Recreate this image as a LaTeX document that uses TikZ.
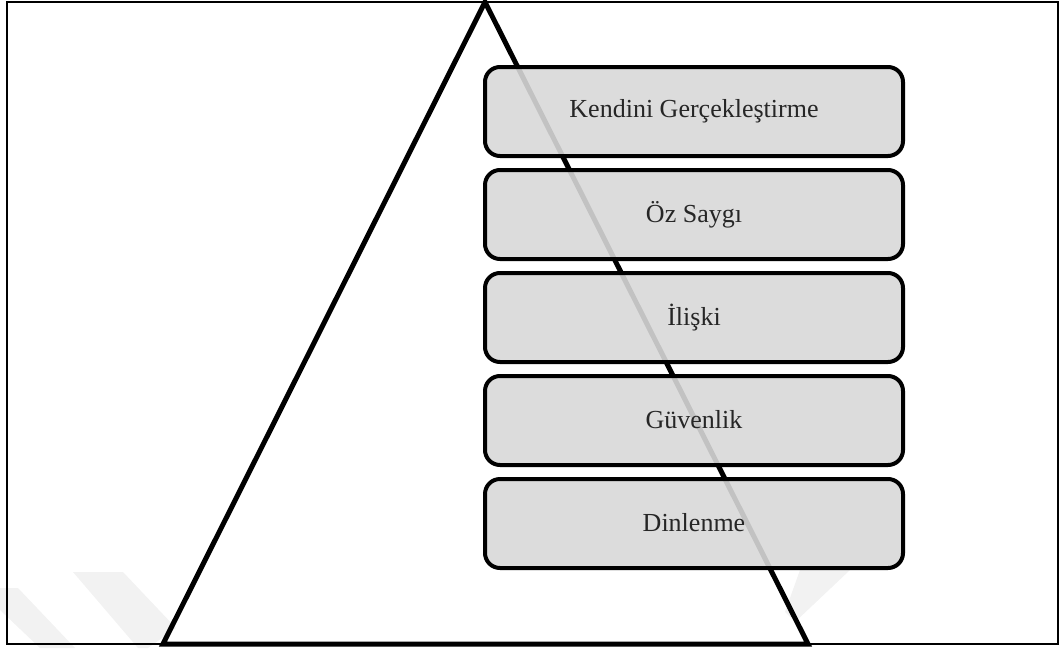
\documentclass[tikz,border=0pt]{standalone}
\usepackage{fontspec}
\setmainfont{Liberation Serif}
\definecolor{boxfill}{RGB}{216,216,216}
\definecolor{boxtext}{RGB}{38,38,38}
\definecolor{mark}{RGB}{242,242,242}
\tikzset{
  level/.style={draw=black, line width=4pt, rounded corners=15pt,
    fill=boxfill, fill opacity=0.9, text opacity=1, text=boxtext,
    minimum width=418pt, minimum height=89pt, inner sep=0pt,
    text height=22pt, text depth=6pt,
    font=\fontsize{26}{30}\selectfont},
  frameline/.style={draw=black, line width=1.5pt},
  pyramid/.style={draw=black, line width=5pt, line join=miter},
  faint/.style={fill=mark}
}
\begin{document}
\begin{tikzpicture}[x=1pt, y=-1pt]
  \useasboundingbox (0,0) rectangle (1059,648);
  % light diagonal marks in the lower corners
  \fill[faint] (0,588) -- (18,588) -- (75,648) -- (40,648) -- (0,610) -- cycle;
  \fill[faint] (73,572) -- (123,572) -- (176,628) -- (148,648) -- (138,648) -- cycle;
  \fill[faint] (800,570) -- (850,570) -- (795,622) -- (785,612) -- cycle;
  % outer frame
  \draw[frameline] (7,2) rectangle (1058,644);
  % pyramid
  \coordinate (apex) at (485,2);
  \coordinate (bl) at (163,644);
  \coordinate (br) at (808,644);
  \draw[pyramid] (apex) -- (br) -- (bl) -- cycle;
  % levels of the hierarchy
  \node[level, text height=20pt, text depth=8pt] (l1) at (694,111.5) {Kendini Gerçekleştirme};
  \node[level] (l2) at (694,214.5) {Öz Saygı};
  \node[level] (l3) at (694,317.5) {İlişki};
  \node[level] (l4) at (694,420.5) {Güvenlik};
  \node[level] (l5) at (694,523.5) {Dinlenme};
\end{tikzpicture}
\end{document}
